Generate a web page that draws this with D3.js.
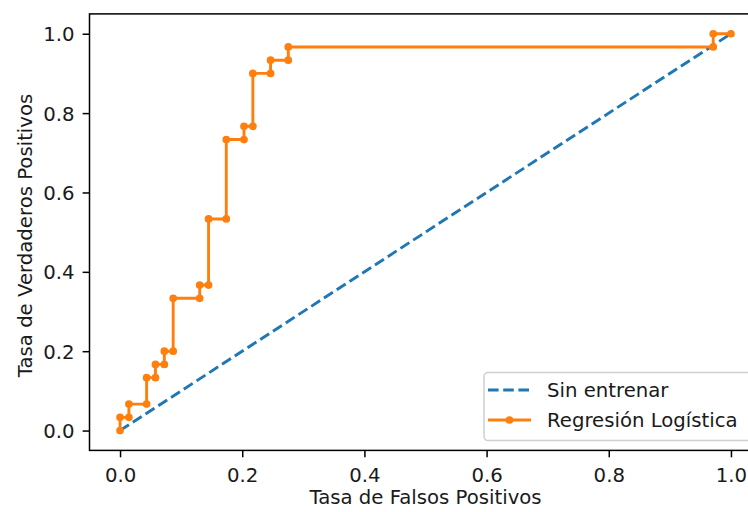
<!DOCTYPE html>
<html>
<head>
<meta charset="utf-8">
<script src="https://cdn.jsdelivr.net/npm/d3@7"></script>
<style>
  html, body { margin: 0; padding: 0; background: #fff; }
  svg { display: block; font-family: "DejaVu Sans", sans-serif; }
</style>
</head>
<body>
<svg id="chart" width="748" height="512"></svg>
<script>
// ---- Data ----
const fprLogistic = [0, 0, 0.0145, 0.0145, 0.0435, 0.0435, 0.0580, 0.0580, 0.0725, 0.0725,
  0.0870, 0.0870, 0.1304, 0.1304, 0.1449, 0.1449, 0.1739, 0.1739, 0.2029, 0.2029,
  0.2174, 0.2174, 0.2464, 0.2464, 0.2754, 0.2754, 0.9710, 0.9710, 1.0];
const tprLogistic = [0, 0.0333, 0.0333, 0.0667, 0.0667, 0.1333, 0.1333, 0.1667, 0.1667, 0.2000,
  0.2000, 0.3333, 0.3333, 0.3667, 0.3667, 0.5333, 0.5333, 0.7333, 0.7333, 0.7667,
  0.7667, 0.9000, 0.9000, 0.9333, 0.9333, 0.9667, 0.9667, 1.0, 1.0];
const fprBaseline = [0, 1];
const tprBaseline = [0, 1];
const tickValues = [0.0, 0.2, 0.4, 0.6, 0.8, 1.0];
const seriesNames = ["Sin entrenar", "Regresión Logística"];
const xLabel = "Tasa de Falsos Positivos";
const yLabel = "Tasa de Verdaderos Positivos";

(function () {
// ---- Layout ----
const pL = 89.5, pR = 761.5, pT = 13.9, pB = 450.4;
const blue = "#1f77b4", orange = "#ff7f0e";
const fontSize = 19.7;
const textCol = "#1a1a1a";
const lw = 2.9, dash = "10.6,4.6";

const svg = d3.select("#chart");
const x = d3.scaleLinear().domain([-0.05, 1.05]).range([pL, pR]);
const y = d3.scaleLinear().domain([-0.05, 1.05]).range([pB, pT]);

svg.append("defs").append("clipPath").attr("id", "clip")
  .append("rect").attr("x", pL).attr("y", pT).attr("width", pR - pL).attr("height", pB - pT);

const plot = svg.append("g").attr("clip-path", "url(#clip)");

const base = fprBaseline.map((v, i) => [v, tprBaseline[i]]);
plot.append("path")
  .datum(base)
  .attr("d", d3.line().x(d => x(d[0])).y(d => y(d[1])))
  .attr("fill", "none").attr("stroke", blue).attr("stroke-width", lw)
  .attr("stroke-dasharray", dash);

const lr = fprLogistic.map((v, i) => [v, tprLogistic[i]]);
plot.append("path")
  .datum(lr)
  .attr("d", d3.line().x(d => x(d[0])).y(d => y(d[1])))
  .attr("fill", "none").attr("stroke", orange).attr("stroke-width", lw)
  .attr("stroke-linejoin", "round").attr("stroke-linecap", "square");
plot.selectAll("circle.pt").data(lr).enter().append("circle")
  .attr("class", "pt")
  .attr("cx", d => x(d[0])).attr("cy", d => y(d[1]))
  .attr("r", 2.9).attr("fill", orange).attr("stroke", orange).attr("stroke-width", 1.9);

const fmt = d3.format(".1f");
const xAxis = svg.append("g").attr("transform", `translate(0,${pB})`)
  .call(d3.axisBottom(x).tickValues(tickValues).tickFormat(fmt).tickSizeOuter(0).tickSize(6.9).tickPadding(7));
const yAxis = svg.append("g").attr("transform", `translate(${pL},0)`)
  .call(d3.axisLeft(y).tickValues(tickValues).tickFormat(fmt).tickSizeOuter(0).tickSize(6.9).tickPadding(7));
[xAxis, yAxis].forEach(g => {
  g.select(".domain").remove();
  g.selectAll(".tick line").attr("stroke", "#000").attr("stroke-width", 1.5);
  g.selectAll(".tick text").attr("font-size", fontSize).attr("fill", textCol)
    .attr("font-family", "DejaVu Sans, sans-serif");
});
xAxis.selectAll(".tick text").attr("y", 0).attr("dy", null).attr("transform", "translate(0,32)");
yAxis.selectAll(".tick text").attr("x", -15).attr("dy", "0.36em");

svg.append("rect").attr("x", pL).attr("y", pT).attr("width", pR - pL).attr("height", pB - pT)
  .attr("fill", "none").attr("stroke", "#000").attr("stroke-width", 1.5);

svg.append("text").attr("x", (pL + pR) / 2).attr("y", 504)
  .attr("text-anchor", "middle").attr("font-size", fontSize).attr("fill", textCol).text(xLabel);
svg.append("text").attr("transform", `translate(31.5,235.5) rotate(-90)`)
  .attr("text-anchor", "middle").attr("font-size", fontSize).attr("fill", textCol).text(yLabel);

const lg = svg.append("g");
const lgX = 484, lgY = 372.5, lgW = 751.6 - 484, lgH = 440.5 - 372.5;
lg.append("rect").attr("x", lgX).attr("y", lgY).attr("width", lgW).attr("height", lgH)
  .attr("rx", 3.9).attr("ry", 3.9)
  .attr("fill", "#fff").attr("fill-opacity", 0.8).attr("stroke", "#d0d0d0").attr("stroke-width", 1.5);
const rows = [390, 420];
lg.append("line").attr("x1", 488).attr("x2", 531).attr("y1", rows[0]).attr("y2", rows[0])
  .attr("stroke", blue).attr("stroke-width", lw).attr("stroke-dasharray", dash);
lg.append("line").attr("x1", 488).attr("x2", 531).attr("y1", rows[1]).attr("y2", rows[1])
  .attr("stroke", orange).attr("stroke-width", lw);
lg.append("circle").attr("cx", 509.5).attr("cy", rows[1]).attr("r", 2.9)
  .attr("fill", orange).attr("stroke", orange).attr("stroke-width", 1.9);
seriesNames.forEach((n, i) => {
  lg.append("text").attr("x", 547).attr("y", rows[i]).attr("dy", "0.36em")
    .attr("font-size", fontSize).attr("fill", textCol).text(n);
});
})();
</script>
</body>
</html>
